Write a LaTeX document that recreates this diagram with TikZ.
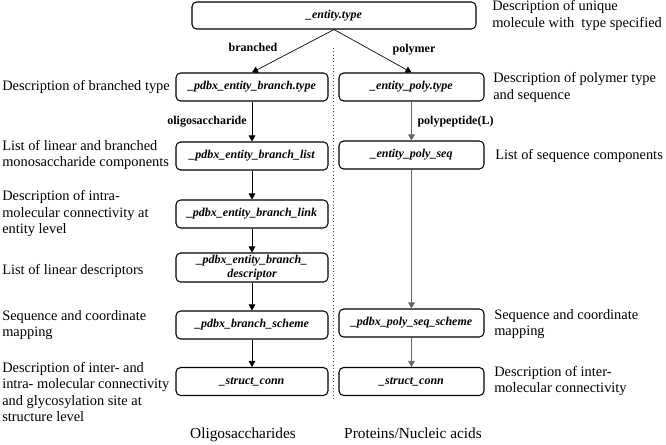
\documentclass[tikz,border=0pt]{standalone}
\usepackage{fontspec}
\setmainfont{LiberationSerif}[Extension=.ttf, UprightFont=*-Regular, BoldFont=*-Bold, ItalicFont=*-Italic, BoldItalicFont=*-BoldItalic]
\usetikzlibrary{arrows.meta}

\tikzset{
  tbox/.style={draw, rounded corners=3.5pt, line width=0.8pt, minimum height=21pt, inner sep=1pt, align=center, font=\fontsize{9}{10}\selectfont\bfseries\itshape},
  lbox/.style={tbox, minimum width=114pt},
  rbox/.style={tbox, minimum width=108.75pt},
  desc/.style={anchor=west, align=left, inner sep=0pt, font=\fontsize{10.8}{12.4}\selectfont},
  lbl/.style={inner sep=0pt, font=\fontsize{9}{10}\selectfont\bfseries},
  arr/.style={-{Triangle[length=4.5pt,width=5pt]}, line width=0.5pt},
}

\begin{document}
\begin{tikzpicture}[x=0.75pt,y=0.75pt,yscale=-1,xscale=1]
        \useasboundingbox (0,0) rectangle (666,445);

        % boxes
        \node [tbox, minimum width=213pt, minimum height=20.25pt] (etype) at (334,15.5) {\_entity.type};
        \node [lbox] (btype) at (252,87) {\_pdbx\_entity\_branch.type};
        \node [rbox] (ptype) at (411.5,87) {\_entity\_poly.type};
        \node [lbox] (blist) at (252,156) {\_pdbx\_entity\_branch\_list};
        \node [rbox] (pseq) at (411.5,155) {\_entity\_poly\_seq};
        \node [lbox] (blink) at (252,214) {\_pdbx\_entity\_branch\_link};
        \node [lbox, minimum height=21.75pt] (bdesc) at (252,267.5) {\_pdbx\_entity\_branch\_\\descriptor};
        \node [lbox] (bscheme) at (252,325) {\_pdbx\_branch\_scheme};
        \node [rbox] (pscheme) at (411.5,323) {\_pdbx\_poly\_seq\_scheme};
        \node [lbox] (bconn) at (252,381.5) {\_struct\_conn};
        \node [rbox] (pconn) at (411.5,381.5) {\_struct\_conn};

        % arrows
        \draw [arr] (etype.south) -- (btype.north);
        \draw [arr] (etype.south) -- (ptype.north);
        \draw [arr] (btype) -- (blist);
        \draw [arr] (blist) -- (blink);
        \draw [arr] (blink) -- (bdesc);
        \draw [arr] (bdesc) -- (bscheme);
        \draw [arr] (bscheme) -- (bconn);
        \draw [arr, draw=black!60] (ptype) -- (pseq);
        \draw [arr, draw=black!60] (pseq) -- (pscheme);
        \draw [arr, draw=black!60] (pscheme) -- (pconn);

        % arrow labels
        \node [lbl] (lbranched) at (253,47) {branched};
        \node [lbl] (lpolymer) at (414,50) {polymer};
        \node [lbl] (loligo) at (207,122) {oligosaccharide};
        \node [lbl] (lpeptide) at (455.5,122) {polypeptide(L)};

        % divider
        \coordinate (dtop) at (333,48);
        \coordinate (dbot) at (333,400);
        \draw [dotted, line width=0.5pt, black!70] (dtop) -- (dbot);

        % descriptions, left
        \node [desc] (d1) at (2,87) {Description of branched type};
        \node [desc] (d2) at (2,155) {List of linear and branched\\monosaccharide components};
        \node [desc] (d3) at (2,213.5) {Description of intra-\\molecular connectivity at\\entity level};
        \node [desc] (d4) at (2,271) {List of linear descriptors};
        \node [desc] (d5) at (2,325) {Sequence and coordinate\\mapping};
        \node [desc] (d6) at (2,392) {Description of inter- and\\intra- molecular connectivity\\and glycosylation site at\\structure level};

        % descriptions, right
        \node [desc] (e1) at (492,15.5) {Description of unique\\molecule with~ type specified};
        \node [desc] (e2) at (493,87.5) {Description of polymer type\\and sequence};
        \node [desc] (e3) at (495,156) {List of sequence components};
        \node [desc] (e4) at (494,324) {Sequence and coordinate\\mapping};
        \node [desc] (e5) at (494,381) {Description of inter-\\molecular connectivity};

        % column titles
        \node [font=\fontsize{11.5}{13}\selectfont, inner sep=0pt, anchor=base] (tleft) at (243,438) {Oligosaccharides};
        \node [font=\fontsize{11.5}{13}\selectfont, inner sep=0pt, anchor=base] (tright) at (413,438) {Proteins/Nucleic acids};
\end{tikzpicture}
\end{document}
